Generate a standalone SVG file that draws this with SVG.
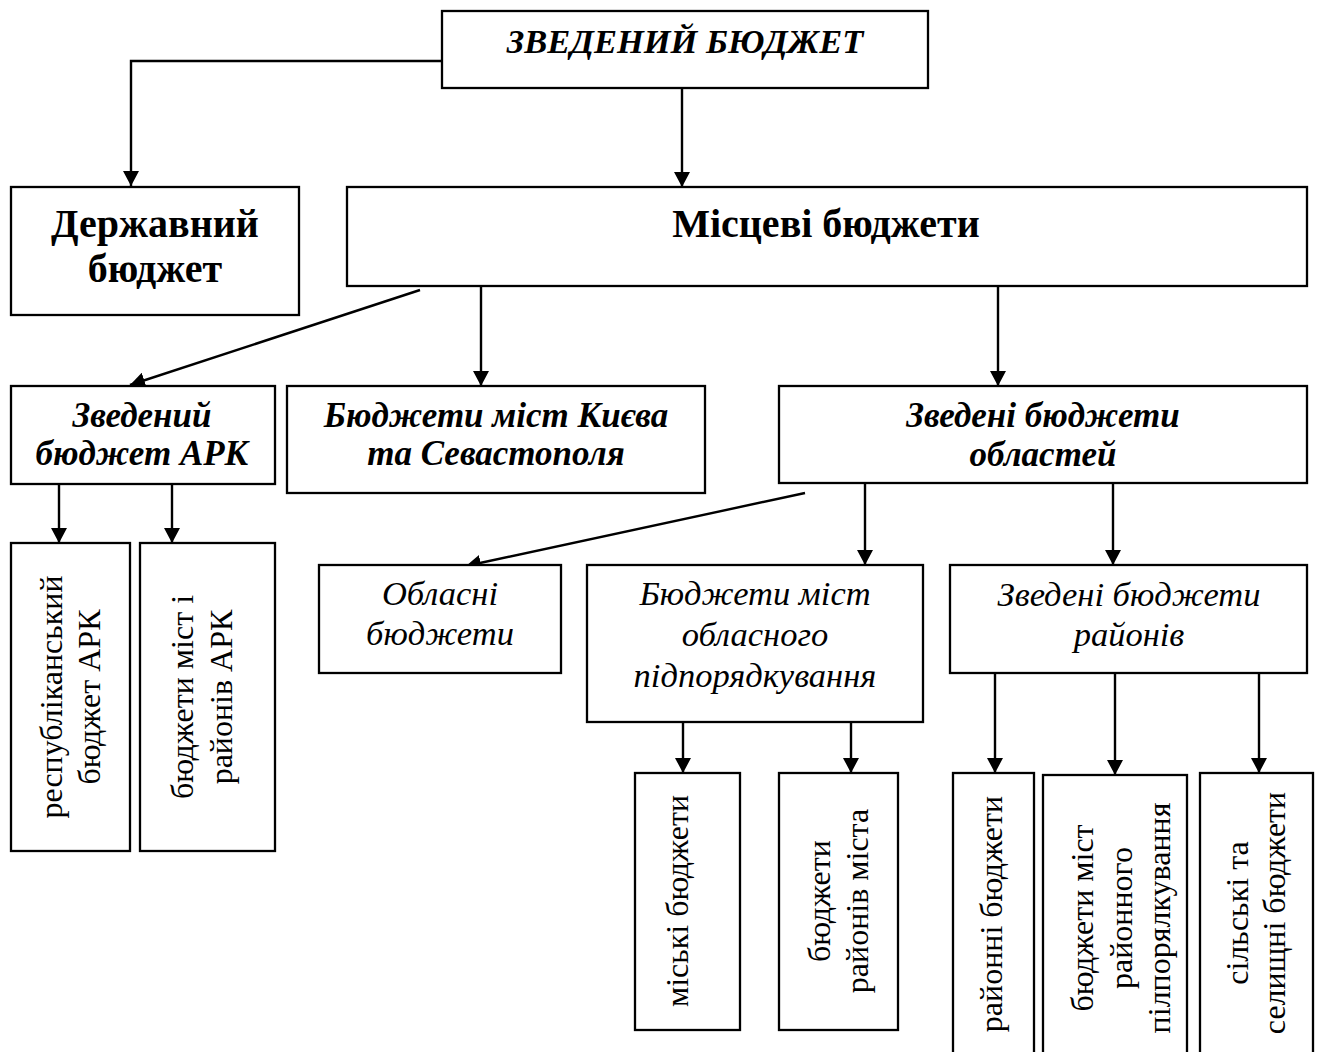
<svg xmlns="http://www.w3.org/2000/svg" width="1320" height="1052" viewBox="0 0 1320 1052">
<defs>
<marker id="ah" markerUnits="userSpaceOnUse" markerWidth="15" markerHeight="16" viewBox="0 0 15 16" refX="15" refY="8" orient="auto">
<path d="M0,0 L15,8 L0,16 Z" fill="#000"/>
</marker>
<style>
.box{fill:#fff;stroke:#000;stroke-width:2.3}
.c{fill:none;stroke:#000;stroke-width:2.4;marker-end:url(#ah)}
.t{font-family:"Liberation Serif","Times New Roman",serif;fill:#000;text-anchor:middle}
.bb{font-size:40px;font-weight:bold}
.bi{font-size:35px;font-weight:bold;font-style:italic}
.ri{font-size:34.5px;font-style:italic}
.rr{font-size:32px}
</style>
</defs>
<rect width="1320" height="1052" fill="#fff"/>
<g id="connectors">
<path class="c" d="M442,61 H131 V186"/>
<path class="c" d="M682,86 V187"/>
<path class="c" d="M420,290 L130,385"/>
<path class="c" d="M481,286 V386"/>
<path class="c" d="M998,286 V386"/>
<path class="c" d="M59,484 V543"/>
<path class="c" d="M172,484 V543"/>
<path class="c" d="M805,493 L466,566"/>
<path class="c" d="M865,484 V565"/>
<path class="c" d="M1113,484 V565"/>
<path class="c" d="M683,722 V773"/>
<path class="c" d="M851,722 V773"/>
<path class="c" d="M995,673 V773"/>
<path class="c" d="M1115,673 V775"/>
<path class="c" d="M1259,673 V773"/>
</g>
<g id="n-zved">
<rect class="box" x="442" y="11" width="486" height="77"/>
<text class="t bi" x="685" y="53" style="font-size:34.5px">ЗВЕДЕНИЙ БЮДЖЕТ</text>
</g>
<g id="n-derzh">
<rect class="box" x="11" y="187" width="288" height="128"/>
<text class="t bb" x="155" y="237">Державний</text>
<text class="t bb" x="155" y="282">бюджет</text>
</g>
<g id="n-misc">
<rect class="box" x="347" y="187" width="960" height="99"/>
<text class="t bb" x="826" y="237">Місцеві бюджети</text>
</g>
<g id="n-ark">
<rect class="box" x="11" y="386" width="264" height="98"/>
<text class="t bi" x="142" y="427">Зведений</text>
<text class="t bi" x="142" y="465">бюджет АРК</text>
</g>
<g id="n-kyiv">
<rect class="box" x="287" y="386" width="418" height="107"/>
<text class="t bi" x="496" y="427">Бюджети міст Києва</text>
<text class="t bi" x="496" y="465">та Севастополя</text>
</g>
<g id="n-obl">
<rect class="box" x="779" y="386" width="528" height="97"/>
<text class="t bi" x="1043" y="427">Зведені бюджети</text>
<text class="t bi" x="1043" y="466">областей</text>
</g>
<g id="n-resp">
<rect class="box" x="11" y="543" width="119" height="308"/>
<text class="t rr" transform="translate(70.5,697) rotate(-90)"><tspan x="0" y="-8.5">республіканський</tspan><tspan x="0" y="29.5">бюджет АРК</tspan></text>
</g>
<g id="n-arkcity">
<rect class="box" x="140" y="543" width="135" height="308"/>
<text class="t rr" transform="translate(207.5,697) rotate(-90)"><tspan x="0" y="-14.5">бюджети міст і</tspan><tspan x="0" y="24.5">районів АРК</tspan></text>
</g>
<g id="n-oblb">
<rect class="box" x="319" y="565" width="242" height="108"/>
<text class="t ri" x="440" y="605">Обласні</text>
<text class="t ri" x="440" y="645">бюджети</text>
</g>
<g id="n-oblcity">
<rect class="box" x="587" y="565" width="336" height="157"/>
<text class="t ri" x="755" y="605">Бюджети міст</text>
<text class="t ri" x="755" y="646">обласного</text>
<text class="t ri" x="755" y="687">підпорядкування</text>
</g>
<g id="n-rai">
<rect class="box" x="950" y="565" width="357" height="108"/>
<text class="t ri" x="1129" y="606">Зведені бюджети</text>
<text class="t ri" x="1129" y="646">районів</text>
</g>
<g id="n-miski">
<rect class="box" x="635" y="773" width="105" height="257"/>
<text class="t rr" transform="translate(687.5,901) rotate(-90)"><tspan x="0" y="0">міські бюджети</tspan></text>
</g>
<g id="n-raimista">
<rect class="box" x="779" y="773" width="119" height="257"/>
<text class="t rr" transform="translate(839,901) rotate(-90)"><tspan x="0" y="-9">бюджети</tspan><tspan x="0" y="29">районів міста</tspan></text>
</g>
<g id="n-raionni">
<rect class="box" x="953" y="773" width="81" height="290"/>
<text class="t rr" transform="translate(993.5,914) rotate(-90)"><tspan x="0" y="8.5">районні бюджети</tspan></text>
</g>
<g id="n-raicity">
<rect class="box" x="1043" y="775" width="144" height="290"/>
<text class="t rr" transform="translate(1115,918) rotate(-90)"><tspan x="0" y="-22">бюджети міст</tspan><tspan x="0" y="17">районного</tspan><tspan x="0" y="55">пілпорялкування</tspan></text>
</g>
<g id="n-silski">
<rect class="box" x="1200" y="773" width="113" height="290"/>
<text class="t rr" transform="translate(1256.5,913) rotate(-90)"><tspan x="0" y="-8.5">сільські та</tspan><tspan x="0" y="28.5">селищні бюджети</tspan></text>
</g>
</svg>
